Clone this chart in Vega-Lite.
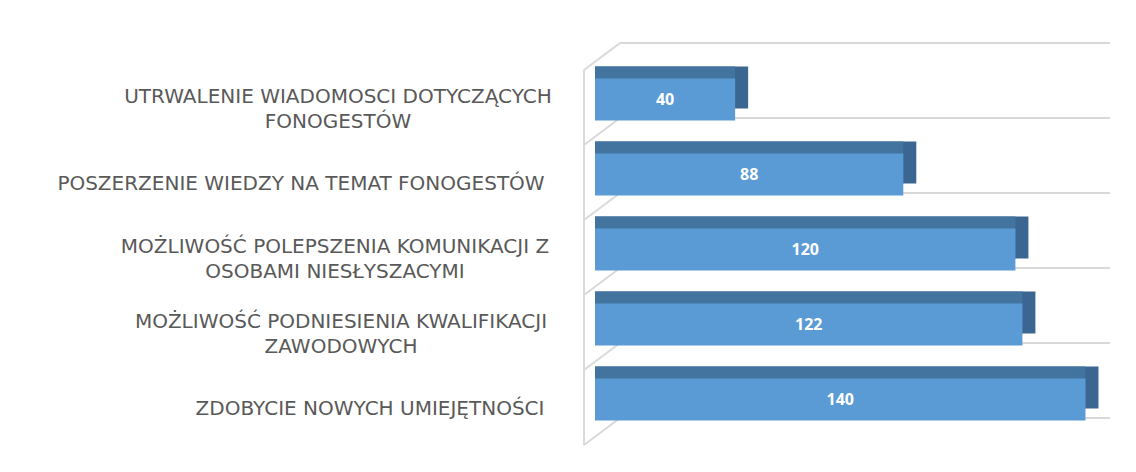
{
  "$schema": "https://vega.github.io/schema/vega-lite/v6.json",
  "autosize": {"type": "none"},
  "padding": {"left": 595, "top": 62, "right": 26, "bottom": 35},
  "width": 515,
  "height": 375,
  "background": "white",
  "config": {"view": {"stroke": null}},
  "data": {"values": [
    {"cat": "UTRWALENIE WIADOMOSCI DOTYCZĄCYCH FONOGESTÓW", "lines": ["UTRWALENIE WIADOMOSCI DOTYCZĄCYCH", "FONOGESTÓW"], "value": 40},
    {"cat": "POSZERZENIE WIEDZY NA TEMAT FONOGESTÓW", "lines": ["POSZERZENIE WIEDZY NA TEMAT FONOGESTÓW"], "value": 88},
    {"cat": "MOŻLIWOŚĆ POLEPSZENIA KOMUNIKACJI Z OSOBAMI NIESŁYSZACYMI", "lines": ["MOŻLIWOŚĆ POLEPSZENIA KOMUNIKACJI Z", "OSOBAMI NIESŁYSZACYMI"], "value": 120},
    {"cat": "MOŻLIWOŚĆ PODNIESIENIA KWALIFIKACJI ZAWODOWYCH", "lines": ["MOŻLIWOŚĆ PODNIESIENIA KWALIFIKACJI", "ZAWODOWYCH"], "value": 122},
    {"cat": "ZDOBYCIE NOWYCH UMIEJĘTNOŚCI", "lines": ["ZDOBYCIE NOWYCH UMIEJĘTNOŚCI"], "value": 140}
  ]},
  "encoding": {
    "y": {"field": "cat", "type": "nominal", "sort": null, "scale": {"paddingInner": 0, "paddingOuter": 0}, "axis": null}
  },
  "resolve": {"scale": {"x": "independent"}},
  "layer": [
    {
      "mark": {"type": "rule", "color": "#d9d9d9", "strokeWidth": 2, "xOffset": 25, "x2Offset": 0, "yOffset": -19},
      "encoding": {
        "y": {"field": "cat", "type": "nominal", "sort": null, "bandPosition": 0, "axis": null},
        "x": {"datum": 0, "type": "quantitative", "scale": {"domain": [0, 147], "nice": false, "zero": false}, "axis": null},
        "x2": {"datum": 147}
      }
    },
    {
      "transform": [{"filter": "indexof(datum.cat,'ZDOBYCIE')==0"}],
      "mark": {"type": "rule", "color": "#d9d9d9", "strokeWidth": 2, "xOffset": 25, "x2Offset": 0, "yOffset": -19},
      "encoding": {
        "y": {"field": "cat", "type": "nominal", "sort": null, "bandPosition": 1, "axis": null},
        "x": {"datum": 0, "type": "quantitative", "scale": {"domain": [0, 147], "nice": false, "zero": false}, "axis": null},
        "x2": {"datum": 147}
      }
    },
    {
      "mark": {"type": "rule", "color": "#d9d9d9", "strokeWidth": 2, "xOffset": -11, "x2Offset": 25, "yOffset": 8, "y2Offset": -19},
      "encoding": {
        "y": {"field": "cat", "type": "nominal", "sort": null, "bandPosition": 0, "axis": null},
        "y2": {"field": "cat", "bandPosition": 0},
        "x": {"datum": 0, "type": "quantitative", "scale": {"domain": [0, 147], "nice": false, "zero": false}, "axis": null},
        "x2": {"datum": 0}
      }
    },
    {
      "transform": [{"filter": "indexof(datum.cat,'ZDOBYCIE')==0"}],
      "mark": {"type": "rule", "color": "#d9d9d9", "strokeWidth": 2, "xOffset": -11, "x2Offset": 25, "yOffset": 8, "y2Offset": -19},
      "encoding": {
        "y": {"field": "cat", "type": "nominal", "sort": null, "bandPosition": 1, "axis": null},
        "y2": {"field": "cat", "bandPosition": 1},
        "x": {"datum": 0, "type": "quantitative", "scale": {"domain": [0, 147], "nice": false, "zero": false}, "axis": null},
        "x2": {"datum": 0}
      }
    },
    {
      "mark": {"type": "rule", "color": "#d9d9d9", "strokeWidth": 2, "xOffset": -11, "yOffset": 8, "y2Offset": 8},
      "encoding": {
        "y": {"field": "cat", "type": "nominal", "sort": null, "bandPosition": 0, "axis": null},
        "y2": {"field": "cat", "bandPosition": 1},
        "x": {"datum": 0, "type": "quantitative", "scale": {"domain": [0, 147], "nice": false, "zero": false}, "axis": null}
      }
    },
    {
      "mark": {"type": "bar", "color": "#3a6691", "height": {"band": 0.56}, "xOffset": 13, "yOffset": -12, "y2Offset": -12},
      "encoding": {
        "x": {"field": "value", "type": "quantitative", "stack": null, "scale": {"domain": [0, 147], "nice": false, "zero": false}, "axis": null}
      }
    },
    {
      "mark": {"type": "bar", "color": "#43739f", "height": {"band": 0.56}, "yOffset": -12, "y2Offset": -12},
      "encoding": {
        "x": {"field": "value", "type": "quantitative", "stack": null, "scale": {"domain": [0, 147], "nice": false, "zero": false}, "axis": null}
      }
    },
    {
      "mark": {"type": "bar", "color": "#5b9bd5", "height": {"band": 0.56}},
      "encoding": {
        "x": {"field": "value", "type": "quantitative", "stack": null, "scale": {"domain": [0, 147], "nice": false, "zero": false}, "axis": null}
      }
    },
    {
      "mark": {"type": "text", "color": "white", "font": "Open Sans", "fontWeight": "bold", "fontSize": 16, "align": "center", "baseline": "middle"},
      "encoding": {
        "x": {"field": "value", "type": "quantitative", "stack": null, "scale": {"domain": [0, 294], "nice": false, "zero": false}, "axis": null},
        "text": {"field": "value", "type": "quantitative"}
      }
    },
    {
      "mark": {
        "type": "text", "color": "#595959", "font": "DejaVu Sans", "fontSize": 20, "lineHeight": 25,
        "align": "center", "baseline": "middle",
        "dx": {"expr": "indexof(datum.cat,'UTRWALENIE')==0 ? -257 : indexof(datum.cat,'POSZERZENIE')==0 ? -294 : indexof(datum.cat,'POLEPSZENIA')>0 ? -260 : indexof(datum.cat,'PODNIESIENIA')>0 ? -254 : -225"},
        "dy": {"expr": "indexof(datum.cat,'POSZERZENIE')==0 || indexof(datum.cat,'ZDOBYCIE')==0 ? 9 : -3"}
      },
      "encoding": {
        "x": {"datum": 0, "type": "quantitative", "scale": {"domain": [0, 147], "nice": false, "zero": false}, "axis": null},
        "text": {"field": "lines", "type": "nominal"}
      }
    }
  ]
}
